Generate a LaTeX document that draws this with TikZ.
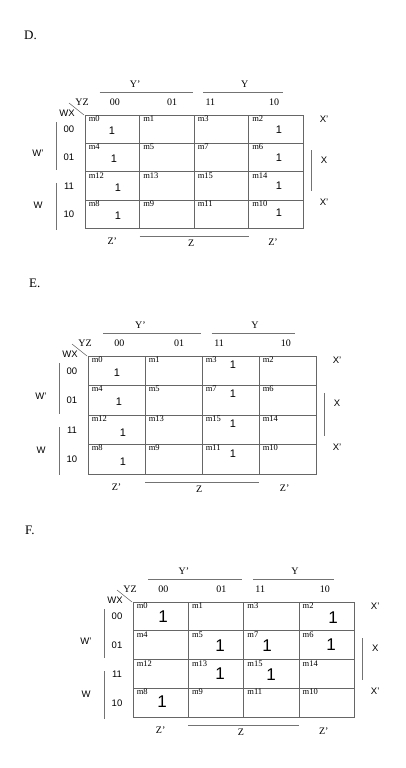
\documentclass[tikz,border=0pt]{standalone}
\usepackage{fontspec}
\setmainfont{Liberation Serif}
\newfontfamily\sansf{Liberation Sans}
\tikzset{
  cellbox/.style={draw=black!60, line width=0.8pt, inner sep=0pt},
  mlab/.style={anchor=north west, inner sep=1pt, font=\fontsize{8.5}{9}\selectfont, xshift=3pt},
  hdr/.style={inner sep=0pt, font=\fontsize{10}{10}\selectfont},
  slab/.style={inner sep=0pt, font=\sansf\fontsize{9.5}{10}\selectfont},
  val/.style={inner sep=0pt, font=\sansf\fontsize{11}{11}\selectfont},
  bigval/.style={inner sep=0pt, font=\sansf\fontsize{17}{17}\selectfont},
  bar/.style={draw=black!55, line width=0.8pt},
  title/.style={inner sep=0pt, anchor=west, font=\fontsize{13}{13}\selectfont}
}
% #1 prefix, #2 left, #3 top, #4 cell width, #5 cell height
\newcommand\kmap[5]{%
  \foreach \ri/\rv in {0/0,1/1,2/3,3/2}{%
    \foreach \ci/\cv in {0/0,1/1,2/3,3/2}{%
      \pgfmathtruncatemacro\mm{4*\rv+\cv}%
      \node[cellbox, minimum width=#4pt, minimum height=#5pt] (#1m\mm) at ({#2+(\ci+0.5)*#4},{#3+(\ri+0.5)*#5}) {};
      \node[mlab] (#1l\mm) at (#1m\mm.north west) {m\mm};
    }%
  }%
  % Y' and Y
  \node[hdr] (#1Yp) at ({#2+0.92*#4},{#3-31}) {Y’};
  \coordinate (#1Ypa) at ({#2+0.27*#4},{#3-23});
  \coordinate (#1Ypb) at ({#2+1.98*#4},{#3-23});
  \draw[bar] (#1Ypa) -- (#1Ypb);
  \node[hdr] (#1Y) at ({#2+2.93*#4},{#3-31}) {Y};
  \coordinate (#1Ya) at ({#2+2.17*#4},{#3-23});
  \coordinate (#1Yb) at ({#2+3.64*#4},{#3-23});
  \draw[bar] (#1Ya) -- (#1Yb);
  % header row
  \node[hdr] (#1YZ) at ({#2-3},{#3-13}) {YZ};
  \node[hdr] (#1c00) at ({#2+0.55*#4},{#3-13}) {00};
  \node[hdr] (#1c01) at ({#2+1.6*#4},{#3-13}) {01};
  \node[hdr] (#1c11) at ({#2+2.3*#4},{#3-13}) {11};
  \node[hdr] (#1c10) at ({#2+3.47*#4},{#3-13}) {10};
  \node[slab] (#1WX) at ({#2-18},{#3-2}) {WX};
  \coordinate (#1da) at ({#2-16},{#3-12});
  \coordinate (#1db) at ({#2-1},{#3});
  \draw[bar, line width=0.6pt] (#1da) -- (#1db);
  % row labels
  \node[slab] (#1r00) at ({#2-16},{#3+0.5*#5}) {00};
  \node[slab] (#1r01) at ({#2-16},{#3+1.5*#5}) {01};
  \node[slab] (#1r11) at ({#2-16},{#3+2.5*#5}) {11};
  \node[slab] (#1r10) at ({#2-16},{#3+3.5*#5}) {10};
  % W' and W
  \node[slab] (#1Wp) at ({#2-47},{#3+1.35*#5}) {W’};
  \coordinate (#1Wpa) at ({#2-29},{#3+0.25*#5});
  \coordinate (#1Wpb) at ({#2-29},{#3+1.95*#5});
  \draw[bar] (#1Wpa) -- (#1Wpb);
  \node[slab] (#1W) at ({#2-47},{#3+3.2*#5}) {W};
  \coordinate (#1Wa) at ({#2-29},{#3+2.4*#5});
  \coordinate (#1Wb) at ({#2-29},{#3+4.05*#5});
  \draw[bar] (#1Wa) -- (#1Wb);
  % X' X X'
  \node[slab] (#1Xp) at ({#2+4*#4+21},{#3+0.15*#5}) {X’};
  \node[slab] (#1X) at ({#2+4*#4+21},{#3+1.6*#5}) {X};
  \node[slab] (#1Xq) at ({#2+4*#4+21},{#3+3.1*#5}) {X’};
  \coordinate (#1Xa) at ({#2+4*#4+8},{#3+1.25*#5});
  \coordinate (#1Xb) at ({#2+4*#4+8},{#3+2.7*#5});
  \draw[bar] (#1Xa) -- (#1Xb);
  % Z' Z Z'
  \node[hdr] (#1Zp) at ({#2+0.5*#4},{#3+4*#5+13}) {Z’};
  \coordinate (#1Za) at ({#2+#4},{#3+4*#5+8});
  \coordinate (#1Zb) at ({#2+3*#4},{#3+4*#5+8});
  \draw[bar] (#1Za) -- (#1Zb);
  \node[hdr] (#1Z) at ({#2+1.95*#4},{#3+4*#5+15}) {Z};
  \node[hdr] (#1Zq) at ({#2+3.45*#4},{#3+4*#5+14}) {Z’};
}
\begin{document}
\begin{tikzpicture}[x=1pt,y=-1pt]
\useasboundingbox (0,0) rectangle (406,768);
% D
\node[title] (tD) at (24,35) {D.};
\kmap{D}{85}{115}{54.5}{28.3}
\node[val] (Dv0) at (112,131) {1};
\node[val] (Dv4) at (114,159) {1};
\node[val] (Dv12) at (118,188) {1};
\node[val] (Dv8) at (118,216) {1};
\node[val] (Dv2) at (279,130) {1};
\node[val] (Dv6) at (279,158) {1};
\node[val] (Dv14) at (279,186) {1};
\node[val] (Dv10) at (279,213) {1};
% E
\node[title] (tE) at (29,283) {E.};
\kmap{E}{88}{356}{57}{29.5}
\node[val] (Ev0) at (117,373) {1};
\node[val] (Ev4) at (119,402) {1};
\node[val] (Ev12) at (123,433) {1};
\node[val] (Ev8) at (123,462) {1};
\node[val] (Ev3) at (233,365) {1};
\node[val] (Ev7) at (233,394) {1};
\node[val] (Ev15) at (233,424) {1};
\node[val] (Ev11) at (233,454) {1};
% F
\node[title] (tF) at (25,530) {F.};
\kmap{F}{133}{602}{55.3}{28.8}
\node[bigval] (Fv0) at (163,617) {1};
\node[bigval] (Fv2) at (333,618) {1};
\node[bigval] (Fv5) at (220,646) {1};
\node[bigval] (Fv7) at (267,646) {1};
\node[bigval] (Fv6) at (331,645) {1};
\node[bigval] (Fv13) at (220,674) {1};
\node[bigval] (Fv15) at (271,675) {1};
\node[bigval] (Fv8) at (162,702) {1};
\end{tikzpicture}
\end{document}
